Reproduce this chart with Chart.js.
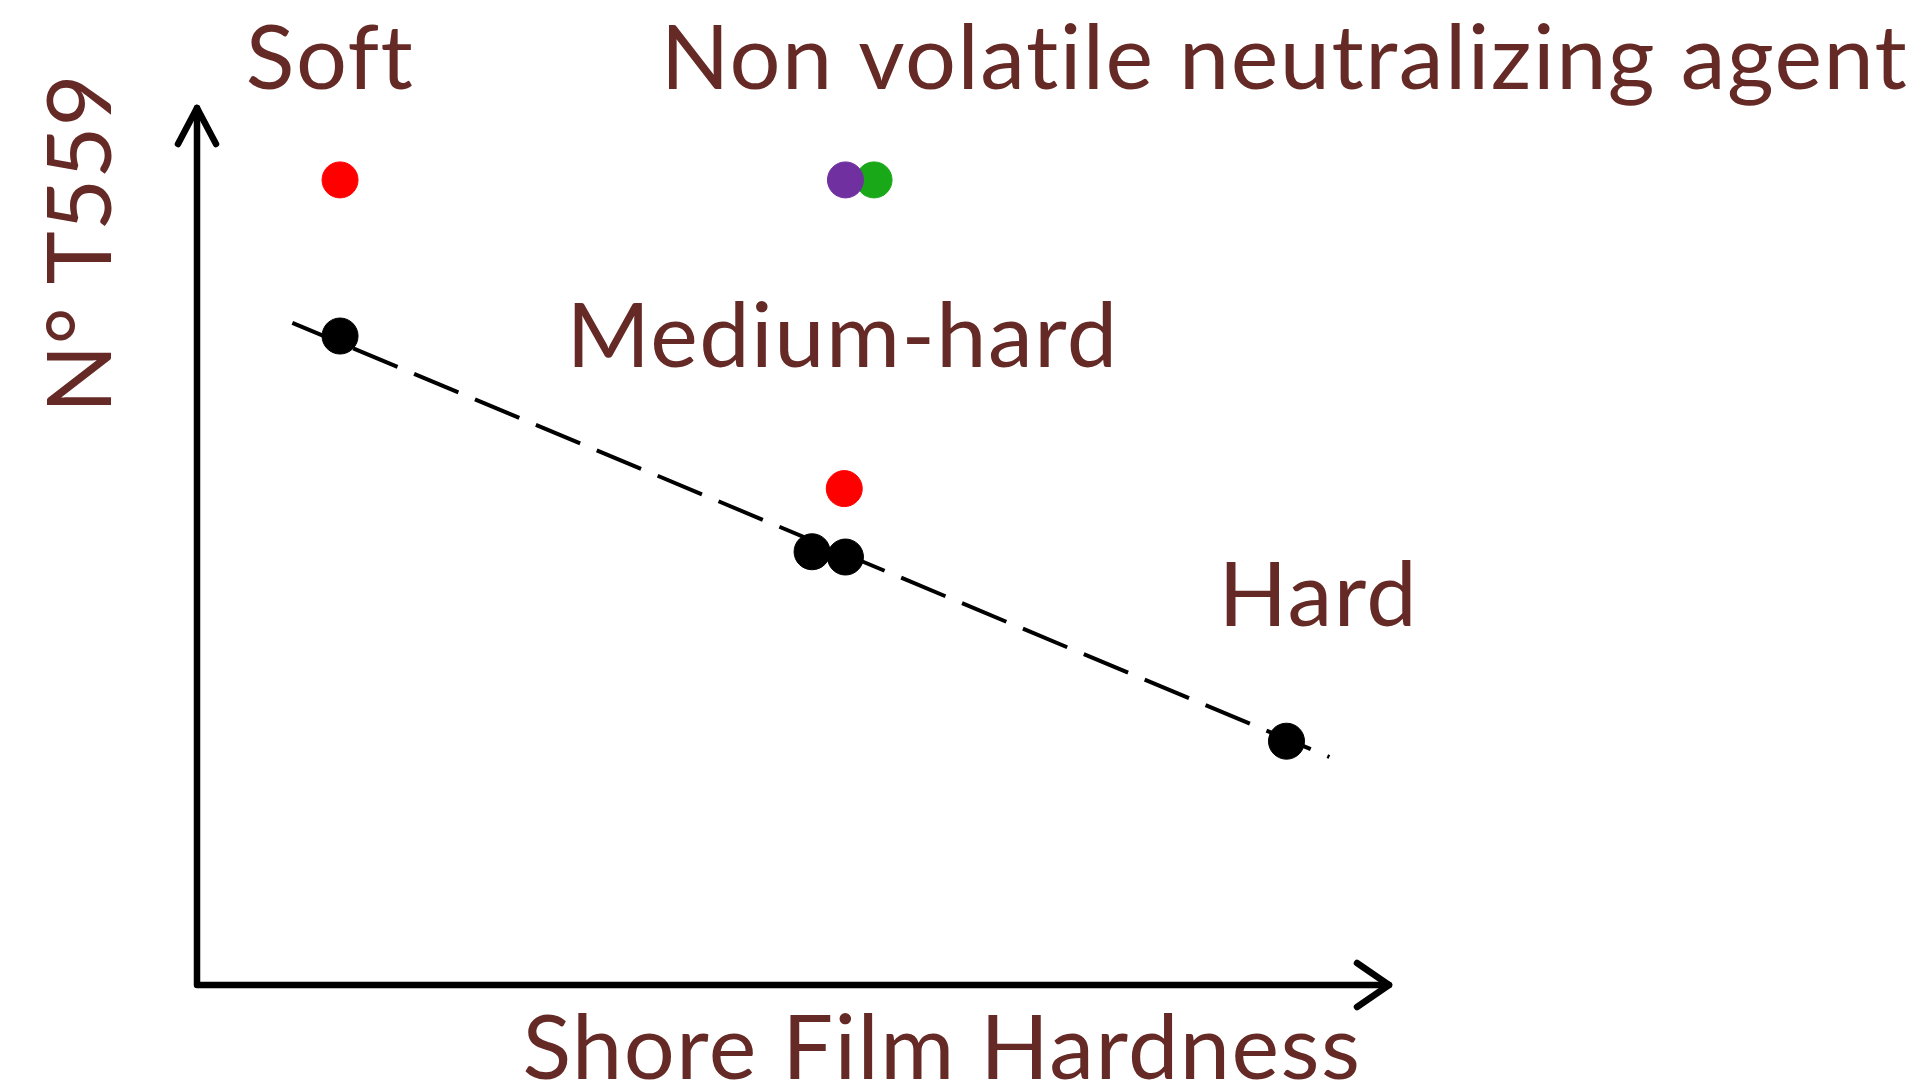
<!DOCTYPE html>
<html>
<head>
<meta charset="utf-8">
<script src="https://cdn.jsdelivr.net/npm/chart.js@4.4.1/dist/chart.umd.min.js"></script>
<style>
    html, body { margin: 0; padding: 0; background: #ffffff; }
    #wrap { width: 1931px; height: 1090px; }
</style>
</head>
<body>
<div id="wrap"><canvas id="chart"></canvas></div>
<script>
// ===============================
// DATI
// ===============================
const blackX = [12.0, 51.6, 54.4, 91.4];
const blackY = [74.0, 49.4, 48.8, 27.8];

const redX = [12.0, 54.3];
const redY = [91.8, 56.6];

const purpleX = [54.4];
const purpleY = [91.8];

const greenX = [56.8];
const greenY = [91.8];

// estremi della retta tratteggiata
const trendX = [8.0, 95.0];
const trendY = [75.5, 26.0];

const xTitle = "Shore Film Hardness";
const yTitle = "N° T559";
const regionLabels = ["Soft", "Non volatile neutralizing agent", "Medium-hard", "Hard"];

// ===============================
// helpers
// ===============================
const toPoints = (xs, ys) => xs.map((x, i) => ({ x: x, y: ys[i] }));

const TEXT_COLOR = "#652a26";
const FONT = "Lato, 'Open Sans', sans-serif";

// posizioni dei testi (in unita' degli assi)
const labelPos = [
    { x: 4.1, y: 102.2 },
    { x: 38.9, y: 102.2 },
    { x: 31.0, y: 70.5 },
    { x: 85.7, y: 40.9 }
];

// ===============================
// assi con frecce + testi
// ===============================
const arrowAxes = {
    id: "arrowAxes",
    beforeDatasetsDraw(chart) {
        const { ctx, chartArea: a } = chart;
        ctx.save();
        ctx.strokeStyle = "#000";
        ctx.lineWidth = 6.5;
        ctx.lineCap = "round";
        ctx.lineJoin = "round";

        // linee
        ctx.beginPath();
        ctx.moveTo(a.left, a.top);
        ctx.lineTo(a.left, a.bottom);
        ctx.lineTo(a.right, a.bottom);
        ctx.stroke();

        // freccia y
        ctx.beginPath();
        ctx.moveTo(a.left - 19, a.top + 36);
        ctx.lineTo(a.left, a.top);
        ctx.lineTo(a.left + 19, a.top + 36);
        ctx.stroke();

        // freccia x
        ctx.beginPath();
        ctx.moveTo(a.right - 32, a.bottom - 22);
        ctx.lineTo(a.right, a.bottom);
        ctx.lineTo(a.right - 32, a.bottom + 22);
        ctx.stroke();
        ctx.restore();
    },
    afterDraw(chart) {
        const { ctx, scales } = chart;
        const sx = scales.x, sy = scales.y;
        ctx.save();
        ctx.fillStyle = TEXT_COLOR;
        ctx.textAlign = "left";
        ctx.textBaseline = "alphabetic";
        ctx.font = "90px " + FONT;
        ctx.letterSpacing = "1.5px";

        regionLabels.forEach((txt, i) => {
            ctx.fillText(txt, sx.getPixelForValue(labelPos[i].x), sy.getPixelForValue(labelPos[i].y));
        });

        // titolo asse x
        ctx.fillText(xTitle, sx.getPixelForValue(27.3), sy.getPixelForValue(-10.7));

        // titolo asse y (ruotato)
        ctx.letterSpacing = "0px";
        ctx.translate(sx.getPixelForValue(-7.2), sy.getPixelForValue(65.2));
        ctx.rotate(-Math.PI / 2);
        ctx.fillText(yTitle, 0, 0);
        ctx.restore();
    }
};

const pointDs = (label, xs, ys, color) => ({
    label: label,
    type: "scatter",
    data: toPoints(xs, ys),
    backgroundColor: color,
    borderColor: color,
    borderWidth: 1,
    pointRadius: 18,
    pointHoverRadius: 18,
    order: 1
});

new Chart(document.getElementById("chart"), {
    type: "scatter",
    data: {
        datasets: [
            pointDs("black", blackX, blackY, "#000000"),
            pointDs("red", redX, redY, "#ff0000"),
            pointDs("purple", purpleX, purpleY, "#7030a0"),
            pointDs("green", greenX, greenY, "#18a818"),
            {
                label: "trend",
                type: "line",
                data: toPoints(trendX, trendY),
                borderColor: "#000000",
                borderWidth: 4,
                borderDash: [48, 18],
                pointRadius: 0,
                fill: false,
                order: 5
            }
        ]
    },
    options: {
        responsive: true,
        maintainAspectRatio: false,
        animation: false,
        layout: { padding: { left: 197, right: 542, top: 108, bottom: 105 } },
        plugins: {
            legend: { display: false },
            tooltip: { enabled: false }
        },
        scales: {
            x: { type: "linear", min: 0, max: 100, display: false },
            y: { type: "linear", min: 0, max: 100, display: false }
        }
    },
    plugins: [arrowAxes]
});
</script>
</body>
</html>
